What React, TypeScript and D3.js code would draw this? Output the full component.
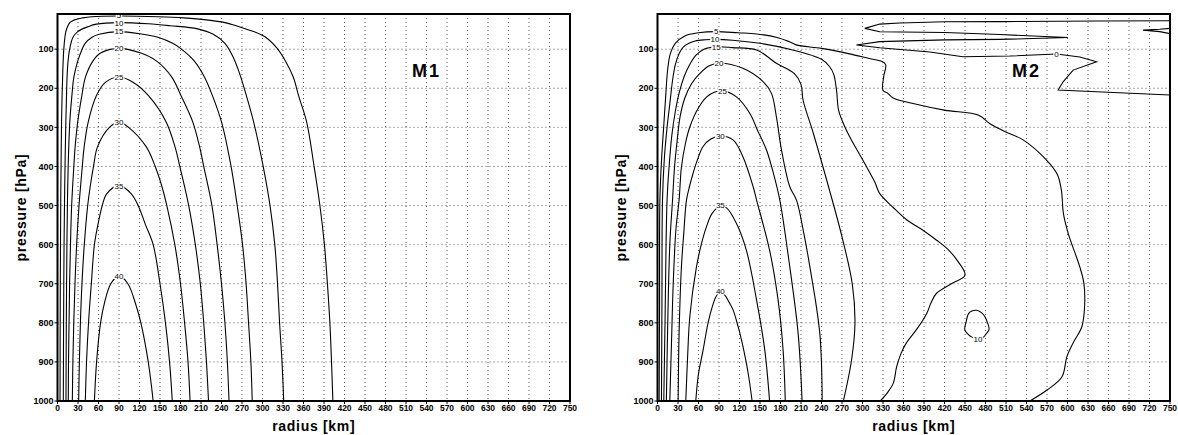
import React from 'react';
import * as d3 from 'd3';

// ---------- axis ticks ----------
const radiusTicks = [0, 30, 60, 90, 120, 150, 180, 210, 240, 270, 300, 330, 360, 390, 420, 450, 480, 510, 540, 570, 600, 630, 660, 690, 720, 750];
const pressureTicks = [100, 200, 300, 400, 500, 600, 700, 800, 900, 1000];

// ---------- M1 contours [radius km, pressure hPa] ----------
const m1Level40 = [[54,1000],[57.2,900],[63,800],[68.6,750],[78,700],[90,680],[103,700],[114,750],[122,800],[132.8,900],[140,1000]];
const m1Level35 = [[40.7,1000],[42.5,900],[45.4,800],[49.5,700],[54,600],[59,550],[65.5,500],[72,470],[90,449],[108,470],[118,500],[129,550],[140,600],[150,700],[158,800],[164,900],[168,1000]];
const m1Level30 = [[31,1000],[32,900],[33.5,800],[35.8,700],[39.2,600],[44.2,500],[48,450],[52.7,400],[58.5,350],[76,300],[90,286],[104,300],[130,350],[143,400],[152.6,450],[160,500],[171.7,600],[180,700],[186,800],[191,900],[194,1000]];
const m1Level25 = [[21.7,1000],[22.5,900],[23.8,800],[25.6,700],[28,600],[31.5,500],[36.3,400],[39,350],[45,286],[56.7,220],[70,185],[90,171],[111,185],[133.8,220],[159,286],[172,350],[179,400],[192,500],[201.7,600],[209,700],[214,800],[218,900],[221,1000]];
const m1Level20 = [[15.8,1000],[16.1,900],[16.9,800],[17.7,700],[19,600],[20.7,500],[23.9,400],[25.8,350],[29.6,286],[35.5,220],[41,171],[52,130],[63,110],[90,98],[122,110],[144.6,130],[167,171],[181,220],[197.9,286],[208,350],[214,400],[226,500],[233.6,600],[240,700],[245,800],[248.6,900],[251,1000]];
const m1Level15 = [[12.4,1000],[12.6,900],[12.9,800],[13.3,700],[13.8,600],[14.5,500],[15.6,400],[18,286],[21,220],[24,171],[29.7,130],[36.5,98],[40.5,85],[50,70],[61,62],[90,55],[125,62],[148,70],[168.5,85],[180,98],[200,130],[215,171],[227,220],[240,286],[254,400],[263,500],[270.8,600],[276,700],[279.6,800],[283,900],[285,1000]];
const m1Level10 = [[8.5,1000],[8.7,900],[8.9,800],[9.2,700],[9.6,600],[10.2,500],[11,400],[12.2,286],[13.2,220],[14,171],[15.5,130],[18,98],[22.5,70],[29.6,55],[45.5,42],[57,36],[90,32],[133,35],[165,40],[205,48],[228,62],[245,85],[257,120],[267,165],[276.6,220],[287,286],[301,400],[311,500],[318,600],[322,700],[325,800],[328.6,900],[331,1000]];
const m1Level5 = [[3.7,1000],[3.8,900],[3.9,800],[4.1,700],[4.4,600],[4.7,500],[5.2,400],[5.9,286],[6.7,220],[7.5,171],[8.3,130],[9.3,98],[10.8,70],[12.2,55],[14.8,42],[18,32],[25,25],[37,20],[50,17],[90,15],[148,17],[185,20],[218,25],[245,32],[265,42],[287,55],[305,70],[321.5,98],[333.5,130],[345,171],[353,220],[364.6,286],[375.5,400],[384,500],[390.6,600],[395,700],[398.6,800],[401,900],[403,1000]];

const m1Labels = [["5",90,14],["10",90,32],["15",90,55],["20",90,98],["25",90,171],["30",90,286],["35",90,449],["40",90,680]];

// ---------- M2 contours ----------
const m2Level40 = [[56,1000],[60,930],[66.7,870],[74,800],[80,760],[86,732],[92,722],[98.5,729],[105,748],[110.6,767],[118,810],[123,844],[128,885],[132.7,929],[138.5,1000]];
const m2Level35 = [[41.4,1000],[44,890],[47.3,784],[57,657],[64,600],[71.7,554],[80,520],[92,502],[101,506],[115.6,546],[130,614],[145,742],[157,870],[164,1000]];
const m2Level30 = [[30.2,1000],[31.6,827],[35,657],[38.5,570],[42.4,486],[47,450],[52,418],[58,385],[66.7,349],[78,330],[92,322],[110.6,332],[125,375],[140,452],[145,486],[164,614],[176.5,742],[183.8,870],[187,1000]];
const m2Level25 = [[18,1000],[20.5,850],[23,700],[27,560],[31.6,486],[35,402],[41,340],[47.3,299],[60,250],[72,222],[83,210],[95,206],[115.6,222],[135,264],[147,310],[159.5,358],[170,420],[179,486],[193.6,657],[205.8,827],[211.6,1000]];
const m2Level20 = [[13,1000],[15,800],[18,600],[22,486],[25,400],[29,330],[33,273],[40,225],[50,188],[62,162],[75,143],[90,136],[125,149],[154.5,183],[166.8,213],[174,273],[181.5,358],[193.6,452],[203.4,486],[214,570],[223,657],[237.5,827],[241,1000]];
const m2Level15 = [[9.2,1000],[11,800],[14,486],[17,400],[21,320],[26,260],[32,210],[39,170],[47,140],[56,116],[68,100],[86,94],[110,96],[145,102],[174,136],[200,162],[210,190],[213,230],[228,315],[250,450],[270,580],[285,700],[289,800],[284,895],[272,1000]];
const m2Level10 = [[5.8,1000],[6.5,750],[7.3,486],[10,380],[14,300],[18,240],[22,180],[26,140],[32,110],[38,94],[46,85],[55,79],[70,76],[84,75],[110,77],[150,85],[195,101],[240,126],[252,145],[258,165],[262,205],[265,256],[272,290],[283,330],[296,370],[306,401],[318,440],[325,469],[345,505],[365,537],[390,565],[408,588],[425,612],[438,639],[450,678],[430,700],[408,725],[400,750],[394,776],[380,815],[364,852],[356,880],[350,912],[345,955],[336,980],[326,1000]];
const m2Level5 = [[2.4,1000],[3,750],[3.5,486],[6,380],[9,300],[12,220],[15,150],[19,110],[26,85],[40,66],[60,58],[86,55],[118,58],[145,61],[175,70],[193,81],[203,89],[240,98],[281,112],[310,124],[328,131],[334,140],[331,170],[330,205],[337,213],[345,225],[374,239],[420,256],[470,269],[486,290],[510,312],[535,332],[569,383],[585,420],[591,460],[594,520],[601,571],[618,657],[624,699],[625,759],[621,810],[608,852],[599,887],[592,938],[570,972],[545,1000]];
const m2Level10Loop = [[449.7,818],[452,795],[455,777],[460,770],[467,768],[474,774],[479,784],[483,800],[485.3,817],[481,828],[477.5,836],[469,842],[459.5,836],[454,828]];
const m2Level0 = [[750,27.4],[647,28.1],[501,29.4],[420.5,30],[354.6,33.2],[325.3,35.8],[303.4,46.8],[325.3,55.5],[420.5,57.5],[501,62.6],[600.5,70.3],[501,74.9],[420.5,76.2],[325.3,80.6],[291.2,89.5],[325.3,96.4],[398.5,107.4],[446.8,119.4],[515.6,117.6],[583.9,112.5],[618,120.2],[642.5,132.2],[608.2,153.5],[593.6,183.4],[586.3,204.6],[642.5,209],[750,217.4]];
const m2Level0Tongue = [[752,46.5],[735,49],[710.6,51.2],[735,55],[752,61]];

const m2Labels = [["5",86,54],["10",84,74],["15",86,95],["20",90,136],["25",95,206],["30",92,322],["35",92,500],["40",92,720],["0",584,112],["10",469,842]];

const m1Contours = [
  { pts: m1Level5 }, { pts: m1Level10 }, { pts: m1Level15 }, { pts: m1Level20 },
  { pts: m1Level25 }, { pts: m1Level30 }, { pts: m1Level35 }, { pts: m1Level40 },
];
const m2Contours = [
  { pts: m2Level5 }, { pts: m2Level10 }, { pts: m2Level15 }, { pts: m2Level20 },
  { pts: m2Level25 }, { pts: m2Level30 }, { pts: m2Level35 }, { pts: m2Level40 },
  { pts: m2Level10Loop, closed: true },
  { pts: m2Level0, linear: true }, { pts: m2Level0Tongue, linear: true },
];

const FONT = '"Liberation Sans", Arial, Helvetica, sans-serif';
const PLOT_W = 512.5;
const TOP = 14;
const BOTTOM = 401;

function Panel({ left, contours, labels, title, id }: any) {
  const x = d3.scaleLinear().domain([0, 750]).range([left, left + PLOT_W]);
  const y = d3.scaleLinear().domain([10, 1000]).range([TOP, BOTTOM]);
  const mk = (curve: any) => d3.line<number[]>().x(d => x(d[0])).y(d => y(d[1])).curve(curve);
  const smooth = mk(d3.curveCatmullRom.alpha(0.5));
  const closed = mk(d3.curveCatmullRomClosed.alpha(0.5));
  const lin = mk(d3.curveLinear);
  const clipId = `clip-${id}`;
  return (
    <g>
      <defs>
        <clipPath id={clipId}>
          <rect x={left} y={TOP} width={PLOT_W} height={BOTTOM - TOP} />
        </clipPath>
      </defs>
      {/* grid */}
      {radiusTicks.filter(t => t > 0 && t < 750).map(t => (
        <line key={'gx' + t} x1={x(t)} x2={x(t)} y1={TOP} y2={BOTTOM} stroke="#555" strokeWidth={1} strokeDasharray="1 3" />
      ))}
      {pressureTicks.filter(t => t < 1000).map(t => (
        <line key={'gy' + t} x1={left} x2={left + PLOT_W} y1={y(t)} y2={y(t)} stroke="#555" strokeWidth={1} strokeDasharray="1 3" />
      ))}
      {/* contours */}
      <g clipPath={`url(#${clipId})`}>
        {contours.map((c: any, i: number) => (
          <path key={i} d={(c.closed ? closed : c.linear ? lin : smooth)(c.pts) || ''} fill="none" stroke="#000" strokeWidth={1.1} />
        ))}
        {labels.map((l: any, i: number) => (
          <text key={'l' + i} x={x(l[1])} y={y(l[2]) + 2.9} textAnchor="middle" fontFamily={FONT} fontSize={8}
            fill="#000" stroke="#fff" strokeWidth={2.5} paintOrder="stroke">{l[0]}</text>
        ))}
      </g>
      {/* frame */}
      <rect x={left} y={TOP} width={PLOT_W} height={BOTTOM - TOP} fill="none" stroke="#000" strokeWidth={2} />
      {/* x ticks */}
      {radiusTicks.map(t => (
        <g key={'xt' + t}>
          <line x1={x(t)} x2={x(t)} y1={BOTTOM} y2={BOTTOM + 3} stroke="#000" strokeWidth={1} />
          <text x={x(t)} y={411} textAnchor="middle" fontFamily={FONT} fontWeight="bold" fontSize={8.5}>{t}</text>
        </g>
      ))}
      {/* y ticks */}
      {pressureTicks.map(t => (
        <g key={'yt' + t}>
          <line x1={left - 3} x2={left} y1={y(t)} y2={y(t)} stroke="#000" strokeWidth={1} />
          <text x={left - 4} y={y(t) + 3.2} textAnchor="end" fontFamily={FONT} fontWeight="bold" fontSize={9}>{t}</text>
        </g>
      ))}
      {/* axis titles */}
      <text x={left + PLOT_W / 2} y={431} textAnchor="middle" fontFamily={FONT} fontWeight="bold" fontSize={14} letterSpacing={0.7}>radius [km]</text>
      <text transform={`translate(${left - 31.5},${(TOP + BOTTOM) / 2}) rotate(-90)`} textAnchor="middle" fontFamily={FONT} fontWeight="bold" fontSize={14} letterSpacing={0.7}>pressure [hPa]</text>
      {/* panel title */}
      <text x={left + 354.5} y={76.5} fontFamily={FONT} fontWeight="bold" fontSize={18} letterSpacing={2}>{title}</text>
    </g>
  );
}

export default function App() {
  return (
    <svg width={1178} height={435} style={{ position: 'absolute', left: 0, top: 0, background: '#fff' }}>
      <rect x={0} y={0} width={1178} height={435} fill="#fff" />
      <Panel left={57.5} contours={m1Contours} labels={m1Labels} title="M1" id="m1" />
      <Panel left={657.5} contours={m2Contours} labels={m2Labels} title="M2" id="m2" />
    </svg>
  );
}
